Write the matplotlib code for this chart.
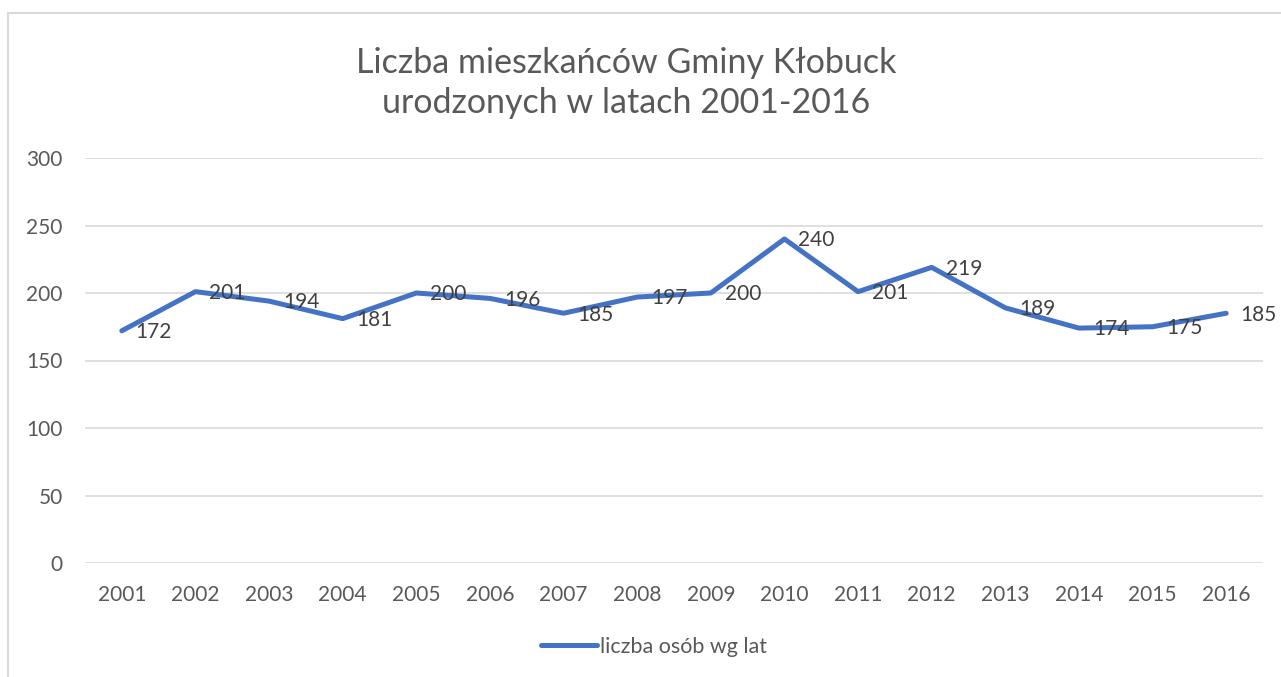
import matplotlib.pyplot as plt
from matplotlib.patches import Rectangle
from matplotlib.lines import Line2D

plt.rcParams['font.family'] = ['Lato', 'DejaVu Sans']

years = [str(y) for y in range(2001, 2017)]
births = [172, 201, 194, 181, 200, 196, 185, 197, 200, 240, 201, 219, 189, 174, 175, 185]
yticks = [0, 50, 100, 150, 200, 250, 300]

W, H = 1281, 677
fig = plt.figure(figsize=(W / 100, H / 100), dpi=100)

# chart frame (Excel-like border, cut by image edges)
fig.patches.append(Rectangle((8 / W, -1), 2, 2 - 13 / H, transform=fig.transFigure,
                             fill=False, edgecolor='#d9d9d9', linewidth=1.5))

ax = fig.add_axes([85 / W, 1 - 563 / H, (1263 - 85) / W, (563 - 158) / H])
x = list(range(len(years)))
ax.plot(x, births, color='#4472C4', linewidth=3.6, solid_capstyle='round',
        solid_joinstyle='round', zorder=3)

for xi, v in zip(x, births):
    ax.annotate(str(v), (xi, v), xytext=(10, -1), textcoords='offset points',
                ha='left', va='center', fontsize=15, color='#404040', zorder=4)

ax.set_xlim(-0.5, len(years) - 0.5)
ax.set_ylim(0, 300)
ax.set_yticks(yticks)
ax.set_xticks(x)
ax.set_xticklabels(years)
ax.tick_params(axis='both', length=0, labelsize=15, labelcolor='#595959')
ax.tick_params(axis='x', pad=16)
ax.tick_params(axis='y', pad=16)
ax.grid(axis='y', color='#d9d9d9', linewidth=1.2)
ax.set_axisbelow(True)
for s in ax.spines.values():
    s.set_visible(False)

fig.text(626 / W, 1 - 83 / H, 'Liczba mieszkańców Gminy Kłobuck\nurodzonych w latach 2001-2016',
         ha='center', va='center', fontsize=24.5, color='#595959', linespacing=1.33)

handle = Line2D([], [], color='#4472C4', linewidth=3.6, solid_capstyle='round')
fig.legend([handle], ['liczba osób wg lat'], loc='center', bbox_to_anchor=(654 / W, 1 - 647 / H),
           frameon=False, fontsize=15.5, labelcolor='#595959', handlelength=2.6,
           handletextpad=0.1)

fig.savefig('out.png', dpi=100)
